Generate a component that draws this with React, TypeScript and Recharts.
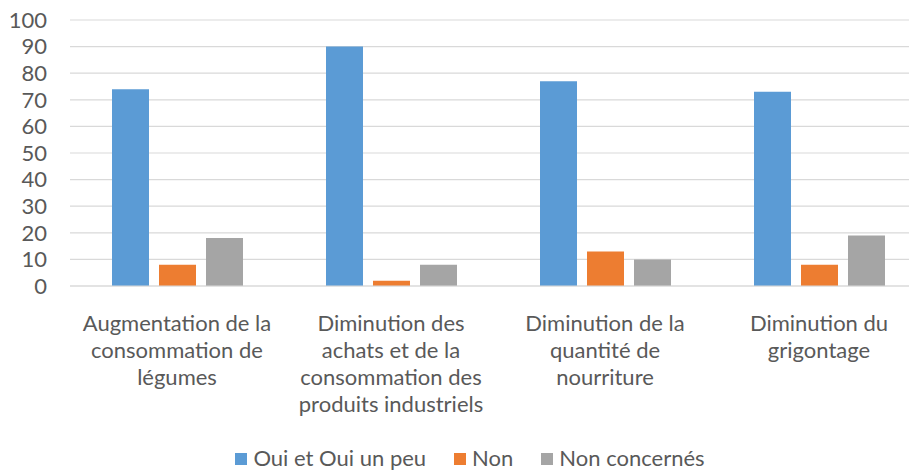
import React from 'react';
import { Bar, BarChart, CartesianGrid, Legend, XAxis, YAxis } from 'recharts';

const categories = [
  'Augmentation de la\nconsommation de\nlégumes',
  'Diminution des\nachats et de la\nconsommation des\nproduits industriels',
  'Diminution de la\nquantité de\nnourriture',
  'Diminution du\ngrigontage',
];
const ouiValues = [74, 90, 77, 73];
const nonValues = [8, 2, 13, 8];
const nonConcernesValues = [18, 8, 10, 19];
const yTicks = [0, 10, 20, 30, 40, 50, 60, 70, 80, 90, 100];

const series = [
  { key: 'oui', name: 'Oui et Oui un peu', color: '#5B9BD5' },
  { key: 'non', name: 'Non', color: '#ED7D31' },
  { key: 'nc', name: 'Non concernés', color: '#A5A5A5' },
];

const data = categories.map((label, i) => ({
  label,
  oui: ouiValues[i],
  non: nonValues[i],
  nc: nonConcernesValues[i],
}));

const FONT = 'Lato, "Open Sans", sans-serif';
const TEXT = '#595959';
const FS = 22;

function CategoryTick({ x, y, payload }: any) {
  const lines = String(payload.value).split('\n');
  return (
    <text x={x} y={y} textAnchor="middle" fill={TEXT} fontFamily={FONT} fontSize={FS}>
      {lines.map((line, i) => (
        <tspan key={line} x={x} dy={i === 0 ? 37 : 27}>
          {line}
        </tspan>
      ))}
    </text>
  );
}

function LegendRow() {
  return (
    <div
      style={{
        display: 'flex',
        justifyContent: 'center',
        alignItems: 'center',
        gap: 28,
        height: 20,
        fontFamily: FONT,
        fontSize: FS,
        color: TEXT,
        paddingLeft: 6,
      }}
    >
      {series.map((s) => (
        <div key={s.key} style={{ display: 'flex', alignItems: 'center', gap: 6 }}>
          <span style={{ width: 12, height: 12, background: s.color, display: 'inline-block', marginTop: 3 }} />
          <span>{s.name}</span>
        </div>
      ))}
    </div>
  );
}

export default function App() {
  return (
    <div style={{ width: 909, height: 470, overflow: 'hidden', marginTop: -8 }}>
      <BarChart
        width={930}
        height={470}
        data={data}
        margin={{ top: 20, right: 12, left: 0, bottom: 3 }}
        barSize={37}
        barGap={10}
      >
        <CartesianGrid stroke="#D9D9D9" strokeWidth={1.2} vertical={false} />
        <XAxis
          dataKey="label"
          tick={<CategoryTick />}
          tickLine={false}
          axisLine={{ stroke: '#D9D9D9', strokeWidth: 1.2 }}
          interval={0}
          height={161}
        />
        <YAxis
          domain={[0, 100]}
          ticks={yTicks}
          width={62}
          tickLine={false}
          axisLine={false}
          tickSize={6}
          tickMargin={17}
          tick={{ fill: TEXT, fontFamily: FONT, fontSize: FS }}
          interval={0}
        />
        <Legend verticalAlign="bottom" content={<LegendRow />} />
        {series.map((s) => (
          <Bar key={s.key} dataKey={s.key} name={s.name} fill={s.color} isAnimationActive={false} />
        ))}
      </BarChart>
    </div>
  );
}
